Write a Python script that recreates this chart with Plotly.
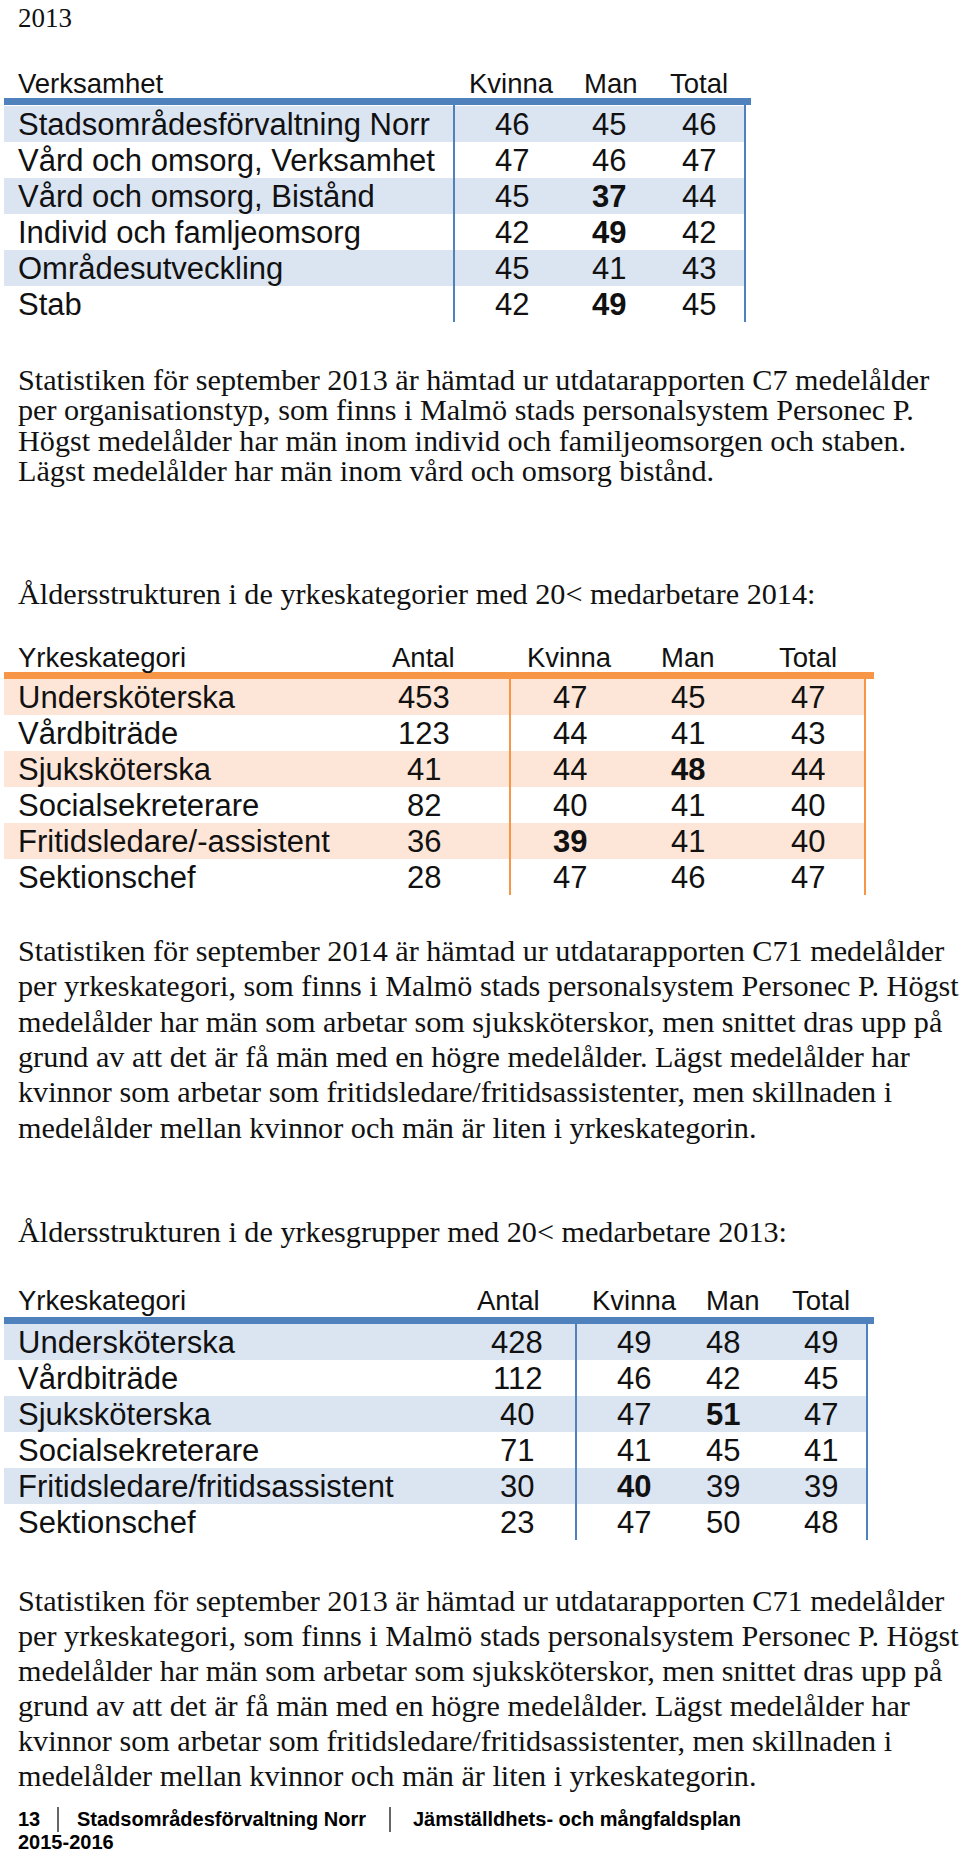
import plotly.graph_objects as go

PAGE_W, PAGE_H = 960, 1854

# ------------------------------------------------------------------ data
page_year = "2013"

t1_head = ["Verksamhet", "Kvinna", "Man", "Total"]
t1_rows = ["Stadsområdesförvaltning Norr", "Vård och omsorg, Verksamhet",
           "Vård och omsorg, Bistånd", "Individ och famljeomsorg",
           "Områdesutveckling", "Stab"]
t1_kvinna = [46, 47, 45, 42, 45, 42]
t1_man = [45, 46, 37, 49, 41, 49]
t1_total = [46, 47, 44, 42, 43, 45]
t1_bold = [(2, 1), (3, 1), (5, 1)]          # (row, value column)

para1 = ["Statistiken för september 2013 är hämtad ur utdatarapporten C7 medelålder",
         "per organisationstyp, som finns i Malmö stads personalsystem Personec P.",
         "Högst medelålder har män inom individ och familjeomsorgen och staben.",
         "Lägst medelålder har män inom vård och omsorg bistånd."]

heading2 = "Åldersstrukturen i de yrkeskategorier med 20< medarbetare 2014:"
t2_head = ["Yrkeskategori", "Antal", "Kvinna", "Man", "Total"]
t2_rows = ["Undersköterska", "Vårdbiträde", "Sjuksköterska", "Socialsekreterare",
           "Fritidsledare/-assistent", "Sektionschef"]
t2_antal = [453, 123, 41, 82, 36, 28]
t2_kvinna = [47, 44, 44, 40, 39, 47]
t2_man = [45, 41, 48, 41, 41, 46]
t2_total = [47, 43, 44, 40, 40, 47]
t2_bold = [(2, 2), (4, 1)]

para2 = ["Statistiken för september 2014 är hämtad ur utdatarapporten C71 medelålder",
         "per yrkeskategori, som finns i Malmö stads personalsystem Personec P. Högst",
         "medelålder har män som arbetar som sjuksköterskor, men snittet dras upp på",
         "grund av att det är få män med en högre medelålder. Lägst medelålder har",
         "kvinnor som arbetar som fritidsledare/fritidsassistenter, men skillnaden i",
         "medelålder mellan kvinnor och män är liten i yrkeskategorin."]

heading3 = "Åldersstrukturen i de yrkesgrupper med 20< medarbetare 2013:"
t3_head = ["Yrkeskategori", "Antal", "Kvinna", "Man", "Total"]
t3_rows = ["Undersköterska", "Vårdbiträde", "Sjuksköterska", "Socialsekreterare",
           "Fritidsledare/fritidsassistent", "Sektionschef"]
t3_antal = [428, 112, 40, 71, 30, 23]
t3_kvinna = [49, 46, 47, 41, 40, 47]
t3_man = [48, 42, 51, 45, 39, 50]
t3_total = [49, 45, 47, 41, 39, 48]
t3_bold = [(2, 2), (4, 1)]

para3 = ["Statistiken för september 2013 är hämtad ur utdatarapporten C71 medelålder",
         "per yrkeskategori, som finns i Malmö stads personalsystem Personec P. Högst",
         "medelålder har män som arbetar som sjuksköterskor, men snittet dras upp på",
         "grund av att det är få män med en högre medelålder. Lägst medelålder har",
         "kvinnor som arbetar som fritidsledare/fritidsassistenter, men skillnaden i",
         "medelålder mellan kvinnor och män är liten i yrkeskategorin."]

footer_parts = ["13", "Stadsområdesförvaltning Norr", "Jämställdhets- och mångfaldsplan"]
footer_line2 = "2015-2016"

# ------------------------------------------------------------------ style
SANS = "Liberation Sans, Arial, sans-serif"
SERIF = "Liberation Serif, Times New Roman, serif"
BLUE = "#4f81bd"
BLUE_LIGHT = "#dbe4f1"
ORANGE = "#f79646"
ORANGE_LIGHT = "#fde6d8"
TXT = "#111111"
HEAD_SIZE = 27.5
ROW_SIZE = 31
PARA_SIZE = 30.2
LEFT = 17

fig = go.Figure()
shapes = []
annos = []


def text(x, y, s, size, family, anchor="left", color=TXT):
    annos.append(dict(x=x, y=y, xref="x", yref="y", text=s, showarrow=False,
                      xanchor=anchor, yanchor="middle", borderpad=0,
                      align="left" if anchor == "left" else "center",
                      font=dict(size=size, family=family, color=color)))


def rect(x0, x1, y0, y1, color):
    shapes.append(dict(type="rect", xref="x", yref="y", x0=x0, x1=x1, y0=y0, y1=y1,
                       fillcolor=color, line=dict(width=0), layer="below"))


def vline(x, y0, y1, color, w=2):
    shapes.append(dict(type="line", xref="x", yref="y", x0=x, x1=x, y0=y0, y1=y1,
                       line=dict(color=color, width=w)))


def draw_table(spec, head, rows, columns, bold, accent, light):
    n = len(rows)
    rh = spec["row_h"]
    top = spec["row_top"]
    # shading of alternate rows
    for i in range(0, n, 2):
        rect(4, spec["shade_x1"], top + i * rh, top + (i + 1) * rh, light)
    # header bar
    rect(4, spec["bar_x1"], spec["bar_top"], spec["bar_top"] + 7, accent)
    for vx in spec["vlines"]:
        vline(vx, spec["bar_top"] + 7, top + n * rh, accent)
    # header
    text(LEFT, spec["head_y"], head[0], HEAD_SIZE, SANS)
    for name, cx in zip(head[1:], spec["head_x"]):
        text(cx, spec["head_y"], name, HEAD_SIZE, SANS, anchor="center")
    # body
    for i, lab in enumerate(rows):
        yc = top + (i + 0.5) * rh
        text(LEFT, yc, lab, ROW_SIZE, SANS)
        for j, (vals, cx) in enumerate(zip(columns, spec["col_x"])):
            s = str(vals[i])
            if (i, j) in bold:
                s = "<b>" + s + "</b>"
            text(cx, yc, s, ROW_SIZE, SANS, anchor="center")


def paragraph_block(lines, y_first, step, size):
    """One multi-line text; base font sets the line pitch (1.3 em), spans set glyph size."""
    base = step / 1.3
    body = "<br>".join("<span style='font-size:%.1fpx'>%s</span>" % (size, ln) for ln in lines)
    y_mid = y_first + step * (len(lines) - 1) / 2.0
    text(LEFT, y_mid, body, base, SERIF)


def paragraph(lines, y0, step):
    for k, ln in enumerate(lines):
        text(LEFT, y0 + k * step, ln, PARA_SIZE, SERIF)


# page year
text(LEFT, 18, page_year, 27, SERIF)

# table 1
spec1 = dict(head_y=83, bar_top=98, bar_x1=751, row_top=106, row_h=36,
             shade_x1=745, vlines=[454, 745], head_x=[511, 611, 699],
             col_x=[512, 609, 699])
draw_table(spec1, t1_head, t1_rows, [t1_kvinna, t1_man, t1_total],
           set(t1_bold), BLUE, BLUE_LIGHT)

paragraph_block(para1, 380, 30.3, PARA_SIZE)
text(LEFT, 594, heading2, PARA_SIZE, SERIF)

# table 2
spec2 = dict(head_y=657, bar_top=672, bar_x1=874, row_top=679, row_h=36,
             shade_x1=865, vlines=[510, 865], head_x=[423, 569, 688, 808],
             col_x=[424, 570, 688, 808])
draw_table(spec2, t2_head, t2_rows, [t2_antal, t2_kvinna, t2_man, t2_total],
           set(t2_bold), ORANGE, ORANGE_LIGHT)

paragraph(para2, 951, 35.3)
text(LEFT, 1232, heading3, PARA_SIZE, SERIF)

# table 3
spec3 = dict(head_y=1300, bar_top=1317, bar_x1=874, row_top=1324, row_h=36,
             shade_x1=867, vlines=[576, 867], head_x=[508, 634, 733, 821],
             col_x=[517, 634, 723, 821])
draw_table(spec3, t3_head, t3_rows, [t3_antal, t3_kvinna, t3_man, t3_total],
           set(t3_bold), BLUE, BLUE_LIGHT)

paragraph(para3, 1601, 35)

# footer
FOOT = 20
for s, fx in zip(footer_parts, [LEFT, 76, 412]):
    text(fx, 1819, "<b>" + s + "</b>", FOOT, SANS, color="#000000")
for sx in [58, 390]:
    vline(sx, 1807, 1832, "#000000", w=1.2)
text(LEFT, 1842, "<b>" + footer_line2 + "</b>", FOOT, SANS, color="#000000")

fig.update_layout(
    width=PAGE_W, height=PAGE_H,
    margin=dict(l=0, r=0, t=0, b=0),
    paper_bgcolor="white", plot_bgcolor="white",
    xaxis=dict(range=[0, PAGE_W], visible=False, fixedrange=True),
    yaxis=dict(range=[PAGE_H, 0], visible=False, fixedrange=True),
    shapes=shapes, annotations=annos, showlegend=False,
)

fig.write_html("out.html", include_plotlyjs=True,
               config={"displayModeBar": False, "staticPlot": True},
               post_script="document.body.style.margin='0';document.body.style.overflow='hidden';")
